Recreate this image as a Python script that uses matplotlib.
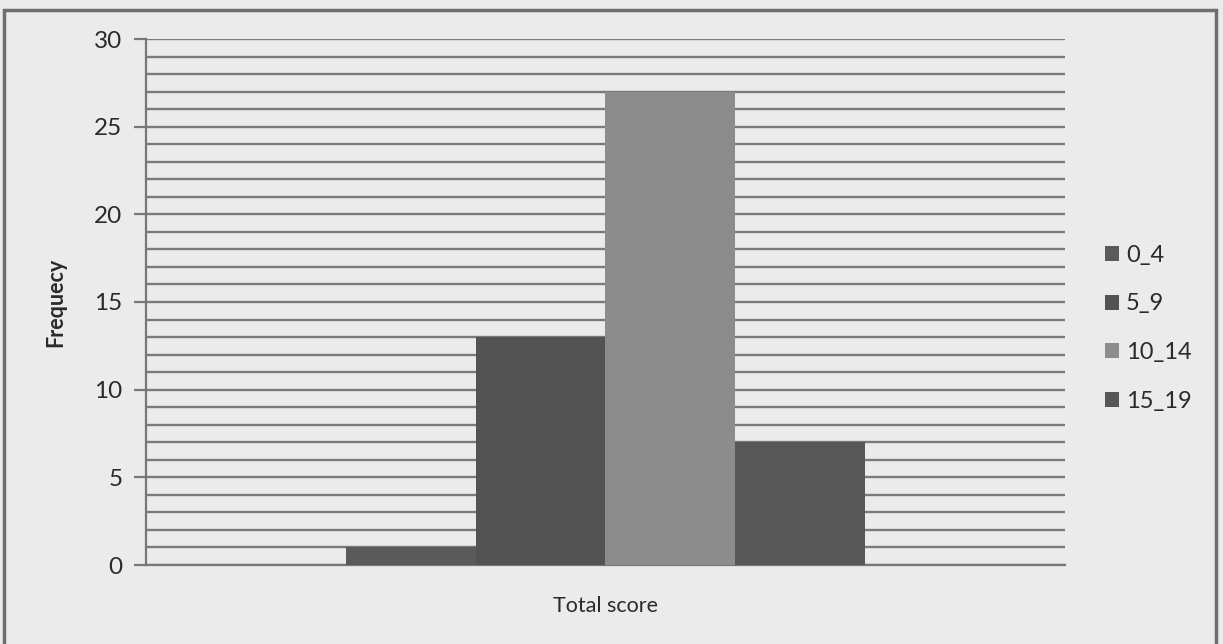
import matplotlib.pyplot as plt
from matplotlib.patches import Rectangle

categories = ["0_4", "5_9", "10_14", "15_19"]
frequency = [1, 13, 27, 7]
bar_colors = ["#5a5a5a", "#535353", "#8c8c8c", "#575757"]

plt.rcParams["font.family"] = ["Lato", "DejaVu Sans"]

fig = plt.figure(figsize=(12.23, 6.44), dpi=100)
fig.patch.set_facecolor("#ebebeb")
ax = fig.add_axes([146 / 1223, 1 - 565 / 644, (1065 - 146) / 1223, (565 - 39) / 644])
ax.set_facecolor("#ebebeb")

# one category group, four series side by side
width = 1 / 7.07
offsets = [(i - 1.5) * width for i in range(len(categories))]
for off, val, col, lab in zip(offsets, frequency, bar_colors, categories):
    ax.bar(off, val, width=width, color=col, label=lab, zorder=3)

ax.set_xlim(-0.5, 0.5)
ax.set_ylim(0, 30)
ax.set_yticks(range(0, 31, 5))
ax.set_yticks(range(0, 31), minor=True)
ax.grid(axis="y", which="both", color="#7a7a7a", linewidth=1.7, zorder=0)
ax.set_xticks([])
for s in ["top", "right"]:
    ax.spines[s].set_visible(False)
ax.spines["left"].set_color("#777777")
ax.spines["left"].set_linewidth(1.6)
ax.spines["bottom"].set_color("#777777")
ax.spines["bottom"].set_linewidth(1.6)
ax.tick_params(axis="y", which="major", length=9, width=1.6, color="#777777",
               labelsize=17.5, labelcolor="#2a2a2a", pad=8)
ax.tick_params(axis="y", which="minor", length=0)

ax.set_ylabel("Frequecy", fontsize=15.5, fontweight="bold", color="#2a2a2a", labelpad=20)
ax.set_xlabel("Total score", fontsize=15.5, color="#2a2a2a", labelpad=22)

leg = ax.legend(loc="center left", bbox_to_anchor=(1.02, 0.45), frameon=False,
                fontsize=17, handlelength=0.6, handleheight=0.6, handletextpad=0.3,
                labelspacing=1.17, labelcolor="#2a2a2a")

fig.add_artist(Rectangle((4 / 1223, -0.01), (1216 - 4) / 1223, 1 - 10 / 644 + 0.01,
                         transform=fig.transFigure, fill=False,
                         edgecolor="#6e6e6e", linewidth=2.5))

fig.savefig("out.png", dpi=100, facecolor=fig.get_facecolor())
